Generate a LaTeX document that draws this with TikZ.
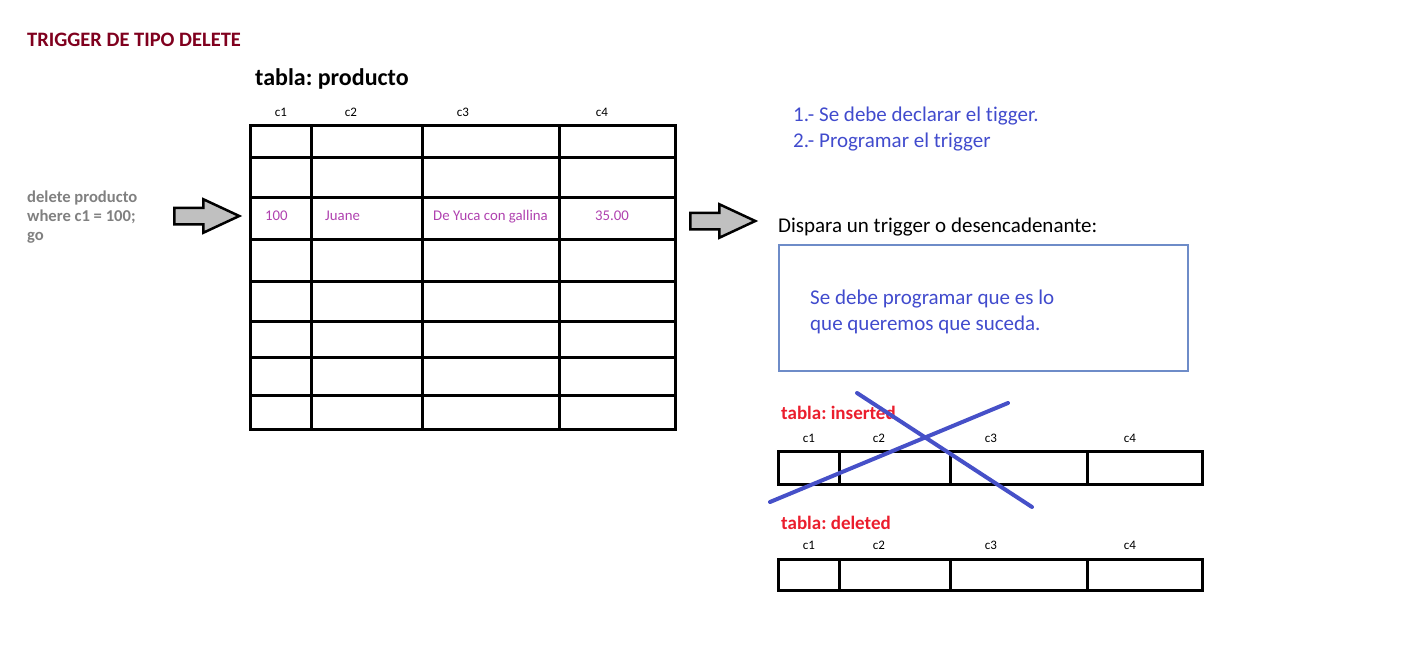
\documentclass[tikz,border=0pt]{standalone}
\usepackage{fontspec}
\setmainfont{Carlito}[Ligatures=NoCommon]
\usetikzlibrary{shapes.arrows,positioning}

\definecolor{titlered}{RGB}{128,0,30}
\definecolor{codegray}{RGB}{128,128,128}
\definecolor{cellpurple}{RGB}{175,65,175}
\definecolor{noteblue}{RGB}{65,75,205}
\definecolor{boxblue}{RGB}{110,140,200}
\definecolor{tablered}{RGB}{235,30,45}
\definecolor{crossblue}{RGB}{70,80,200}
\definecolor{arrowgray}{RGB}{192,192,192}

\begin{document}
\frenchspacing
\begin{tikzpicture}[
    x=1pt, y=-1pt,
    txt/.style={anchor=base west, inner sep=0pt},
    colhead/.style={anchor=base, inner sep=0pt, font=\fontsize{13}{15}\selectfont},
    cell/.style={anchor=base west, inner sep=0pt, text=cellpurple, font=\fontsize{14.8}{17}\selectfont},
    note/.style={txt, text=noteblue, font=\fontsize{21}{25}\selectfont},
    code/.style={txt, text=codegray, font=\fontsize{16.6}{19}\selectfont\bfseries},
    subtitle/.style={txt, text=tablered, font=\fontsize{19}{22}\selectfont\bfseries},
    grid/.style={line width=3pt, line cap=rect},
    bigarrow/.style={single arrow, draw=black, line width=2.5pt, fill=arrowgray, anchor=tail,
        minimum height=65pt, single arrow head extend=8.5pt, inner xsep=0pt, inner ysep=7pt,
        single arrow tip angle=50}
]
\useasboundingbox (0,0) rectangle (1404,671);

% Titles
\node [txt, text=titlered, font=\fontsize{20.5}{24}\selectfont\bfseries] (title) at (27,47) {TRIGGER DE TIPO DELETE};
\node [txt, font=\fontsize{24}{28}\selectfont\bfseries] (prodname) at (255,86) {tabla: producto};

% Table producto
\foreach \y in {126,158,197,239,281,321,357,395,429}
    \draw [grid] (250,\y) -- (675,\y);
\foreach \x in {250,311,422,559,675}
    \draw [grid] (\x,126) -- (\x,429);
\node [colhead] (pc1) at (281,117) {c1};
\node [colhead] (pc2) at (351,117) {c2};
\node [colhead] (pc3) at (463,117) {c3};
\node [colhead] (pc4) at (602,117) {c4};
\node [cell] (val1) at (265,220) {100};
\node [cell] (val2) at (325,220) {Juane};
\node [cell] (val3) at (433,220) {De Yuca con gallina};
\node [cell] (val4) at (595,220) {35.00};

% Sentence
\node [code] (sql1) at (27,202) {delete producto};
\node [code] (sql2) at (27,221) {where c1 = 100;};
\node [code] (sql3) at (27,240) {go};

% Arrows
\node [bigarrow] (arrin) at (173,216) {};
\node [bigarrow] (arrout) at (689,221) {};

% Notes
\node [note] (step1) at (793,122) {1.- Se debe declarar el tigger.};
\node [note] (step2) at (793,148) {2.- Programar el trigger};
\node [txt, font=\fontsize{21}{25}\selectfont] (fires) at (778,232) {Dispara un trigger o desencadenante:};
\node [draw=boxblue, line width=2.5pt, minimum width=409pt, minimum height=126pt, inner sep=0pt] (actionbox) at (983.5,308) {};
\node [note] (action1) at (810,304) {Se debe programar que es lo};
\node [note] (action2) at (810,330) {que queremos que suceda.};

% Tables inserted / deleted
\node [subtitle] (insname) at (781,419) {tabla: inserted};
\node [subtitle] (delname) at (781,529) {tabla: deleted};
\foreach \top/\bot/\hy in {451/484/442, 559/590/549} {
    \draw [grid] (778,\top) rectangle (1202,\bot);
    \foreach \x in {839,950,1087}
        \draw [grid] (\x,\top) -- (\x,\bot);
    \foreach \cx/\cn in {809/c1, 879/c2, 991/c3, 1130/c4}
        \node [colhead] at (\cx,\hy) {\cn};
}

% Crossed out
\draw [crossblue, line width=4pt, line cap=round] (770,502) -- (1008,403);
\draw [crossblue, line width=4pt, line cap=round] (857,393) -- (1032,507);

\end{tikzpicture}
\end{document}
